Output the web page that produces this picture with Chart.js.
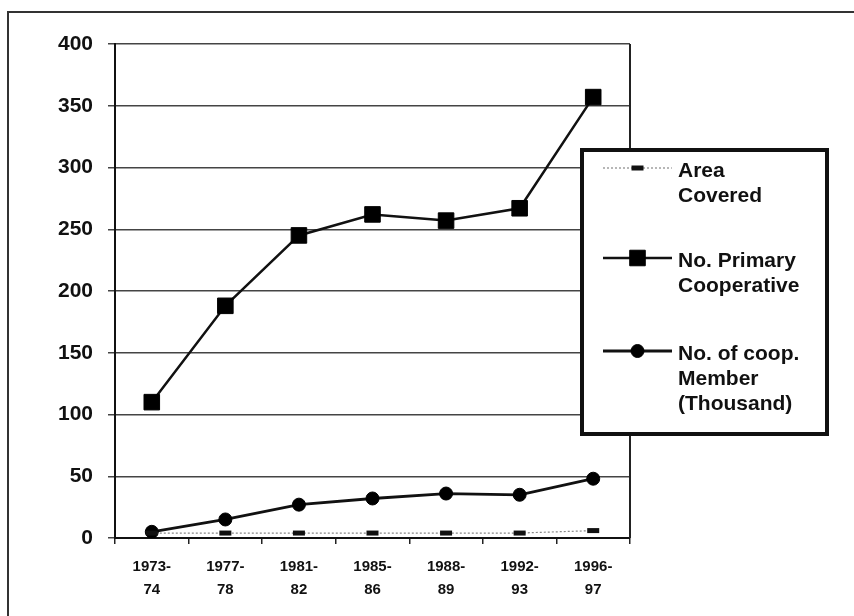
<!DOCTYPE html>
<html lang="en">
<head>
<meta charset="UTF-8">
<title>Cooperatives 1973-97</title>
<script src="https://cdn.jsdelivr.net/npm/chart.js"></script>
<style>
  html, body { margin: 0; padding: 0; background: #fff; }
  .wrap { position: relative; width: 854px; height: 616px; overflow: hidden; }
  .frame { position: absolute; left: 7px; top: 11px; width: 900px; height: 700px;
           border-left: 2px solid #333; border-top: 2px solid #333; }
  canvas { position: absolute; left: 0; top: 0; }
</style>
</head>
<body>
<div class="wrap">
  <div class="frame"></div>
  <canvas id="coopChart" width="854" height="616"></canvas>
</div>
<script>
  const periods = [["1973-", "74"], ["1977-", "78"], ["1981-", "82"], ["1985-", "86"],
                   ["1988-", "89"], ["1992-", "93"], ["1996-", "97"]];
  const areaCovered = [4, 4, 4, 4, 4, 4, 6];
  const primaryCoops = [110, 188, 245, 262, 257, 267, 357];
  const coopMembers = [5, 15, 27, 32, 36, 35, 48];
  const yTicks = [0, 50, 100, 150, 200, 250, 300, 350, 400];

  const seriesNames = [["Area", "Covered"], ["No. Primary", "Cooperative"],
                       ["No. of coop.", "Member", "(Thousand)"]];

  const FONT = "'Liberation Sans', Arial, sans-serif";

  // right edge of the plot box + the boxed legend on the right
  const frameAndLegend = {
    id: "frameAndLegend",
    beforeDatasetsDraw(chart) {
      const { ctx, chartArea: a } = chart;
      ctx.save();
      ctx.strokeStyle = "#222";
      ctx.lineWidth = 2;
      ctx.beginPath();
      ctx.moveTo(a.right, a.top);
      ctx.lineTo(a.right, a.bottom);
      ctx.stroke();
      ctx.restore();
    },
    afterDraw(chart) {
      const ctx = chart.ctx;
      const box = { x: 582, y: 150, w: 245, h: 284 };
      ctx.save();
      ctx.fillStyle = "#fff";
      ctx.fillRect(box.x, box.y, box.w, box.h);
      ctx.strokeStyle = "#111";
      ctx.lineWidth = 4;
      ctx.strokeRect(box.x, box.y, box.w, box.h);

      const rows = [168, 258, 351];
      const sx0 = 603, sx1 = 672, tx = 678, lh = 25;
      chart.data.datasets.forEach((ds, i) => {
        const y = rows[i];
        ctx.save();
        ctx.strokeStyle = ds.borderColor;
        ctx.lineWidth = ds.borderWidth;
        ctx.setLineDash(ds.borderDash || []);
        ctx.beginPath();
        ctx.moveTo(sx0, y);
        ctx.lineTo(sx1, y);
        ctx.stroke();
        ctx.restore();
        ctx.fillStyle = ds.pointBackgroundColor;
        ctx.strokeStyle = ds.pointBorderColor;
        ctx.lineWidth = ds.pointBorderWidth;
        Chart.helpers.drawPoint(ctx, {
          pointStyle: ds.pointStyle,
          radius: ds.pointRadius,
          borderWidth: ds.pointBorderWidth
        }, (sx0 + sx1) / 2, y);
        ctx.fillStyle = "#111";
        ctx.font = "bold 21px " + FONT;
        ctx.textBaseline = "middle";
        ctx.textAlign = "left";
        seriesNames[i].forEach((t, k) => ctx.fillText(t, tx, y + 3 + k * lh));
      });
      ctx.restore();
    }
  };

  new Chart(document.getElementById("coopChart"), {
    type: "line",
    data: {
      labels: periods,
      datasets: [
        {
          label: "Area Covered",
          data: areaCovered,
          borderColor: "#888",
          borderWidth: 1.2,
          borderDash: [2, 2],
          pointStyle: "line",
          pointRadius: 6,
          pointBorderWidth: 5,
          pointBorderColor: "#111",
          pointBackgroundColor: "#111"
        },
        {
          label: "No. Primary Cooperative",
          data: primaryCoops,
          borderColor: "#111",
          borderWidth: 2.5,
          pointStyle: "rect",
          pointRadius: 11,
          pointBorderWidth: 1,
          pointBorderColor: "#000",
          pointBackgroundColor: "#000"
        },
        {
          label: "No. of coop. Member (Thousand)",
          data: coopMembers,
          borderColor: "#111",
          borderWidth: 2.8,
          pointStyle: "circle",
          pointRadius: 6.5,
          pointBorderWidth: 1,
          pointBorderColor: "#000",
          pointBackgroundColor: "#000"
        }
      ]
    },
    options: {
      responsive: false,
      animation: false,
      layout: { padding: { top: 44, right: 224, bottom: 0, left: 0 } },
      plugins: { legend: { display: false }, tooltip: { enabled: false } },
      elements: { line: { tension: 0 } },
      scales: {
        x: {
          offset: true,
          grid: { offset: true, drawOnChartArea: false, drawTicks: true, tickLength: 6,
                  color: "#222", lineWidth: 1.5 },
          border: { color: "#111", width: 2 },
          ticks: { color: "#111", padding: 12, maxRotation: 0, autoSkip: false,
                   font: { family: FONT, size: 15, weight: "bold", lineHeight: 1.5 } },
          afterFit(scale) { scale.height = 78; }
        },
        y: {
          min: 0, max: 400,
          afterBuildTicks(scale) { scale.ticks = yTicks.map(v => ({ value: v })); },
          grid: { color: "#444", lineWidth: 1.5, tickLength: 7 },
          border: { color: "#111", width: 2 },
          ticks: { color: "#111", padding: 15,
                   font: { family: FONT, size: 21, weight: "bold" } },
          afterFit(scale) { scale.width = 115; }
        }
      }
    },
    plugins: [frameAndLegend]
  });
</script>
</body>
</html>
